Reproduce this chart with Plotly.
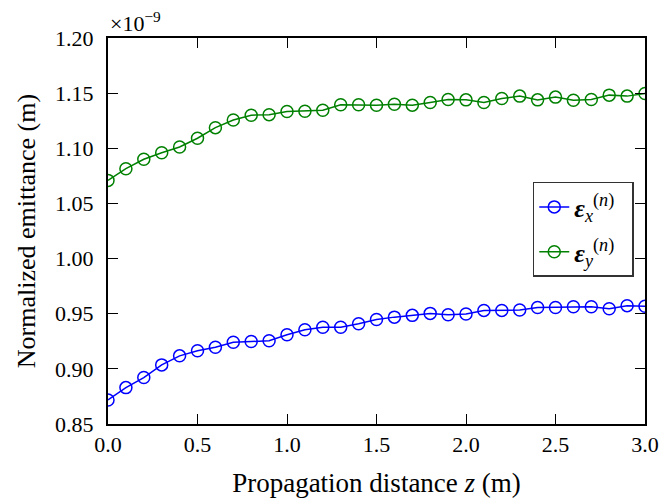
import plotly.graph_objects as go

z = [round(0.1 * i, 1) for i in range(31)]

eps_x = [0.8718, 0.8830, 0.8921, 0.9036, 0.9118, 0.9164, 0.9196, 0.9242, 0.9248, 0.9255,
         0.9309, 0.9355, 0.9378, 0.9378, 0.9409, 0.9448, 0.9469, 0.9485, 0.9503, 0.9491,
         0.9497, 0.9530, 0.9530, 0.9533, 0.9557, 0.9557, 0.9563, 0.9563, 0.9545, 0.9573,
         0.9567]

eps_y = [1.0709, 1.0815, 1.0900, 1.0960, 1.1012, 1.1091, 1.1187, 1.1257, 1.1300, 1.1305,
         1.1333, 1.1336, 1.1345, 1.1394, 1.1394, 1.1390, 1.1400, 1.1391, 1.1415, 1.1442,
         1.1439, 1.1415, 1.1451, 1.1473, 1.1439, 1.1464, 1.1436, 1.1442, 1.1482, 1.1473,
         1.1496]

x_ticks = [0.0, 0.5, 1.0, 1.5, 2.0, 2.5, 3.0]
x_tick_labels = ["0.0", "0.5", "1.0", "1.5", "2.0", "2.5", "3.0"]
y_ticks = [0.85, 0.90, 0.95, 1.00, 1.05, 1.10, 1.15, 1.20]
y_tick_labels = ["0.85", "0.90", "0.95", "1.00", "1.05", "1.10", "1.15", "1.20"]

FONT = "Liberation Serif"
BLUE = "#0000ff"
GREEN = "#008000"

fig = go.Figure()
fig.add_trace(go.Scatter(
    x=z, y=eps_x, mode="lines+markers", legendgroup="ex",
    name="<b><i>ε</i></b><sub><i>x</i></sub><sup>(<i>n</i>)</sup>  ",
    line=dict(color=BLUE, width=1.5),
    marker=dict(symbol="circle-open", size=12, color=BLUE, line=dict(width=1.5, color=BLUE)),
))
fig.add_trace(go.Scatter(
    x=z, y=eps_y, mode="lines+markers", legendgroup="ey",
    name="<b><i>ε</i></b><sub><i>y</i></sub><sup>(<i>n</i>)</sup>  ",
    line=dict(color=GREEN, width=1.5),
    marker=dict(symbol="circle-open", size=12, color=GREEN, line=dict(width=1.5, color=GREEN)),
))

axis_common = dict(
    showline=True, linecolor="black", linewidth=2, mirror="allticks",
    ticks="inside", ticklen=10, tickwidth=1.3, tickcolor="black",
    showgrid=False, zeroline=False, automargin=False,
    tickfont=dict(family=FONT, size=22, color="black"),
)

fig.update_xaxes(
    range=[0, 3.0], tickvals=x_ticks, ticktext=x_tick_labels,
    title=dict(text="Propagation distance <i>z</i> (m)", font=dict(family=FONT, size=27, color="black"), standoff=19),
    **axis_common,
)
fig.update_yaxes(
    range=[0.85, 1.20], tickvals=y_ticks, ticktext=y_tick_labels,
    ticklabelstandoff=8,
    title=dict(text="Normalized emittance (m)", font=dict(family=FONT, size=26, color="black"), standoff=12),
    **axis_common,
)

fig.add_annotation(
    x=0, y=1, xref="paper", yref="paper", xanchor="left", yanchor="bottom",
    text="×10<sup>−9</sup>", showarrow=False, yshift=0,
    font=dict(family=FONT, size=22, color="black"),
)

fig.update_layout(
    width=664, height=490,
    margin=dict(l=100, r=27, t=30, b=74),
    paper_bgcolor="white", plot_bgcolor="white",
    font=dict(family=FONT, color="black"),
    legend=dict(
        x=0.791, y=0.627, xanchor="left", yanchor="top",
        bgcolor="white", bordercolor="#333333", borderwidth=1.5,
        font=dict(family=FONT, size=26, color="black"),
        itemwidth=30, tracegroupgap=8,
    ),
    showlegend=True,
)

fig.write_html("out.html")
